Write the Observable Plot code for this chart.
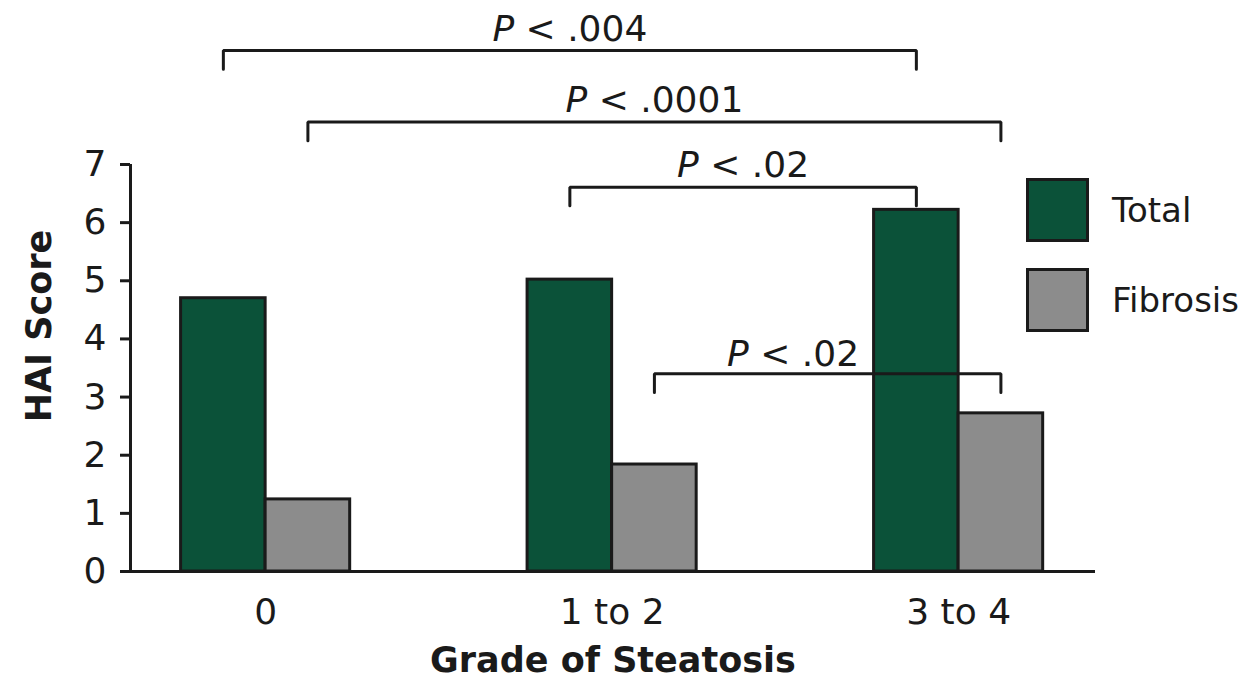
<!DOCTYPE html>
<html>
<head>
<meta charset="utf-8">
<script src="https://cdn.jsdelivr.net/npm/d3@7"></script>
<script src="https://cdn.jsdelivr.net/npm/@observablehq/plot@0.6"></script>
<style>
  html, body { margin: 0; padding: 0; background: #fff; }
  #wrap { position: relative; width: 1253px; height: 683px; font-family: "DejaVu Sans", Verdana, sans-serif; color: #1a1a1a; }
  #legend { position: absolute; left: 1026px; top: 178px; }
  .item { display: flex; align-items: center; height: 64px; margin-bottom: 26px; }
  .swatch { width: 57px; height: 58px; border: 3px solid #1a1a1a; margin-right: 23px; }
  .item span { font-size: 34px; }
</style>
</head>
<body>
<div id="wrap"></div>
<script>
// HAI score by grade of steatosis
const categories = ["0", "1 to 2", "3 to 4"];
const series = ["Total", "Fibrosis"];
const totalScores = [4.70, 5.02, 6.22];
const fibrosisScores = [1.24, 1.84, 2.72];
const yTicks = [0, 1, 2, 3, 4, 5, 6, 7];
const seriesColors = ["#0b5239", "#8c8c8c"];

// Significance comparisons: [group, series] pairs and their P labels
const pLabels = ["P < .004", "P < .0001", "P < .02", "P < .02"];
const pFrom = [["0", "Total"], ["0", "Fibrosis"], ["1 to 2", "Total"], ["1 to 2", "Fibrosis"]];
const pTo = [["3 to 4", "Total"], ["3 to 4", "Fibrosis"], ["3 to 4", "Total"], ["3 to 4", "Fibrosis"]];
const bracketLevels = [8.96, 7.73, 6.61, 3.40];

// --- layout helpers ---
const barW = 0.244;          // bar width, in group units
const drop = 0.32;           // bracket end-tick length, in score units
const ink = "#1a1a1a";
const xDomain = [-0.39, categories.length - 1 + 0.395];
const xOf = (g, s) => categories.indexOf(g) + (series.indexOf(s) - 0.5) * barW;

const bars = categories.flatMap((g, i) => series.map((s, j) => ({
  group: g, series: s, value: j === 0 ? totalScores[i] : fibrosisScores[i]
})));

const brackets = pLabels.map((label, k) => {
  const a = xOf(...pFrom[k]), b = xOf(...pTo[k]), level = bracketLevels[k];
  // a bar rising through the bracket pushes the label to its left
  const blocker = bars.find(d => d.value > level && xOf(d.group, d.series) > a && xOf(d.group, d.series) < b);
  return {label, a, b, level, blocker};
});
const bracketPts = brackets.flatMap((d, k) => [
  {k, x: d.a, y: d.level - drop}, {k, x: d.a, y: d.level},
  {k, x: d.b, y: d.level}, {k, x: d.b, y: d.level - drop}
]);
const centered = brackets.filter(d => !d.blocker).map(d => ({label: d.label, x: (d.a + d.b) / 2, y: d.level}));
const shifted = brackets.filter(d => d.blocker).map(d => ({label: d.label, x: xOf(d.blocker.group, d.blocker.series) - barW / 2, y: d.level}));

const chart = Plot.plot({
  width: 1253,
  height: 683,
  marginLeft: 130,
  marginRight: 158,
  marginTop: 164,
  marginBottom: 112,
  style: {fontFamily: "DejaVu Sans, Verdana, sans-serif", color: ink, background: "#fff", overflow: "visible"},
  x: {type: "linear", domain: xDomain},
  y: {domain: [0, 7]},
  color: {domain: series, range: seriesColors},
  marks: [
    Plot.rect(bars, {
      x1: d => xOf(d.group, d.series) - barW / 2,
      x2: d => xOf(d.group, d.series) + barW / 2,
      y1: 0, y2: "value", fill: "series", stroke: ink, strokeWidth: 3
    }),
    Plot.ruleY([0], {stroke: ink, strokeWidth: 3}),
    Plot.ruleX([xDomain[0]], {y1: 0, y2: yTicks[yTicks.length - 1], stroke: ink, strokeWidth: 3}),
    Plot.axisY({ticks: yTicks, tickFormat: d => String(d), tickSize: 10, tickPadding: 14, stroke: ink, strokeWidth: 3, strokeOpacity: 1, fill: ink, fontSize: 36, label: null}),
    Plot.axisX({ticks: categories.map((_, i) => i), tickFormat: i => categories[i], tickSize: 0, tickPadding: 27, fill: ink, fontSize: 36, label: null}),
    Plot.line(bracketPts, {x: "x", y: "y", z: "k", stroke: ink, strokeWidth: 3, strokeLinejoin: "miter", curve: "linear"}),
    Plot.text(centered, {x: "x", y: "y", text: "label", lineAnchor: "bottom", dy: -10, fontSize: 36, fill: ink}),
    Plot.text(shifted, {x: "x", y: "y", text: "label", lineAnchor: "bottom", textAnchor: "end", dx: -15, dy: -8, fontSize: 36, fill: ink}),
    Plot.text(["HAI Score"], {text: d => d, frameAnchor: "left", textAnchor: "middle", dx: -91, dy: -42, rotate: -90, fontSize: 35, fontWeight: "bold", fill: ink}),
    Plot.text(["Grade of Steatosis"], {text: d => d, frameAnchor: "bottom", textAnchor: "middle", dy: 100, fontSize: 35, fontWeight: "bold", fill: ink})
  ]
});

// italic P in the significance labels
const NS = "http://www.w3.org/2000/svg";
chart.querySelectorAll("text").forEach(t => {
  const s = t.textContent;
  if (s.startsWith("P <")) {
    t.textContent = "";
    const p = document.createElementNS(NS, "tspan");
    p.setAttribute("font-style", "italic");
    p.textContent = "P";
    t.appendChild(p);
    t.appendChild(document.createTextNode(s.slice(1)));
  }
});

const wrap = document.getElementById("wrap");
wrap.appendChild(chart);

// legend beside the bars
const legend = document.createElement("div");
legend.id = "legend";
series.forEach((s, i) => {
  const item = document.createElement("div");
  item.className = "item";
  const sw = document.createElement("div");
  sw.className = "swatch";
  sw.style.background = seriesColors[i];
  const label = document.createElement("span");
  label.textContent = s;
  item.append(sw, label);
  legend.appendChild(item);
});
wrap.appendChild(legend);
</script>
</body>
</html>
